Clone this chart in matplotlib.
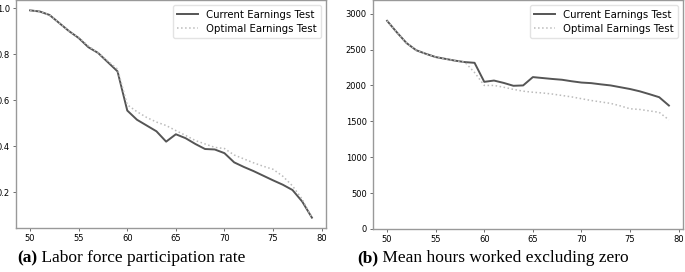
import matplotlib
matplotlib.use("Agg")
import matplotlib.pyplot as plt
import numpy as np

ages = list(range(50, 80))

lfp_current = [0.99, 0.985, 0.97, 0.935, 0.90, 0.87, 0.83, 0.805, 0.765, 0.725,
               0.555, 0.515, 0.49, 0.465, 0.42, 0.452, 0.435, 0.41, 0.388, 0.386,
               0.37, 0.33, 0.31, 0.292, 0.272, 0.252, 0.233, 0.21, 0.16, 0.09]
lfp_optimal = [0.99, 0.985, 0.97, 0.935, 0.90, 0.872, 0.835, 0.805, 0.77, 0.735,
               0.58, 0.55, 0.525, 0.505, 0.49, 0.468, 0.447, 0.425, 0.41, 0.395,
               0.39, 0.362, 0.345, 0.328, 0.313, 0.30, 0.27, 0.228, 0.17, 0.09]

hours_current = [2900, 2740, 2590, 2490, 2440, 2395, 2370, 2345, 2325, 2315,
                 2050, 2068, 2035, 1995, 2000, 2116, 2103, 2090, 2079, 2058,
                 2040, 2032, 2015, 2000, 1975, 1950, 1918, 1878, 1836, 1720]
hours_optimal = [2900, 2740, 2590, 2490, 2440, 2395, 2370, 2345, 2325, 2180,
                 2000, 2000, 1975, 1945, 1920, 1905, 1895, 1880, 1860, 1840,
                 1815, 1790, 1770, 1750, 1715, 1675, 1665, 1645, 1625, 1521]

xticks = [50, 55, 60, 65, 70, 75, 80]
labels = ["Current Earnings Test", "Optimal Earnings Test"]
captions = [("(a)", " Labor force participation rate"),
            ("(b)", " Mean hours worked excluding zero")]

fig = plt.figure(figsize=(6.85, 2.72), dpi=100)
ax1 = fig.add_axes([16/685, 44/272, 310/685, 228/272])
ax2 = fig.add_axes([373/685, 43/272, 310/685, 229/272])

for ax, cur, opt in [(ax1, lfp_current, lfp_optimal), (ax2, hours_current, hours_optimal)]:
    ax.plot(ages, cur, color="#555555", lw=1.4, label=labels[0])
    ax.plot(ages, opt, color="#bbbbbb", lw=1.1, ls=":", label=labels[1])
    ax.set_xticks(xticks)
    ax.tick_params(labelsize=6, length=2.5, width=0.6, color="#555555", pad=2)
    for s in ax.spines.values():
        s.set_color("#999999")
        s.set_linewidth(1.0)
    leg = ax.legend(loc="upper right", fontsize=7.3, frameon=True, fancybox=True,
                    handlelength=2.0, handletextpad=0.8, borderpad=0.45,
                    labelspacing=0.4)
    leg.get_frame().set_edgecolor("#dddddd")

ax1.set_xlim(48.55, 80.45)
ax1.set_yticks([0.2, 0.4, 0.6, 0.8, 1.0])
ax2.set_xlim(48.55, 80.45)
ax2.set_ylim(0, 3190)
ax2.set_yticks([0, 500, 1000, 1500, 2000, 2500, 3000])

fig.canvas.draw()
renderer = fig.canvas.get_renderer()
for (bold, rest), xc in zip(captions, [17, 357]):
    t = fig.text(xc/685, 1 - 258/272, bold, fontfamily="Liberation Serif",
                 fontweight="bold", fontsize=12.5, va="center", ha="left")
    bb = t.get_window_extent(renderer)
    fig.text(bb.x1/685, 1 - 258/272, rest, fontfamily="Liberation Serif",
             fontsize=12.5, va="center", ha="left")

fig.savefig("out.png", dpi=100)
